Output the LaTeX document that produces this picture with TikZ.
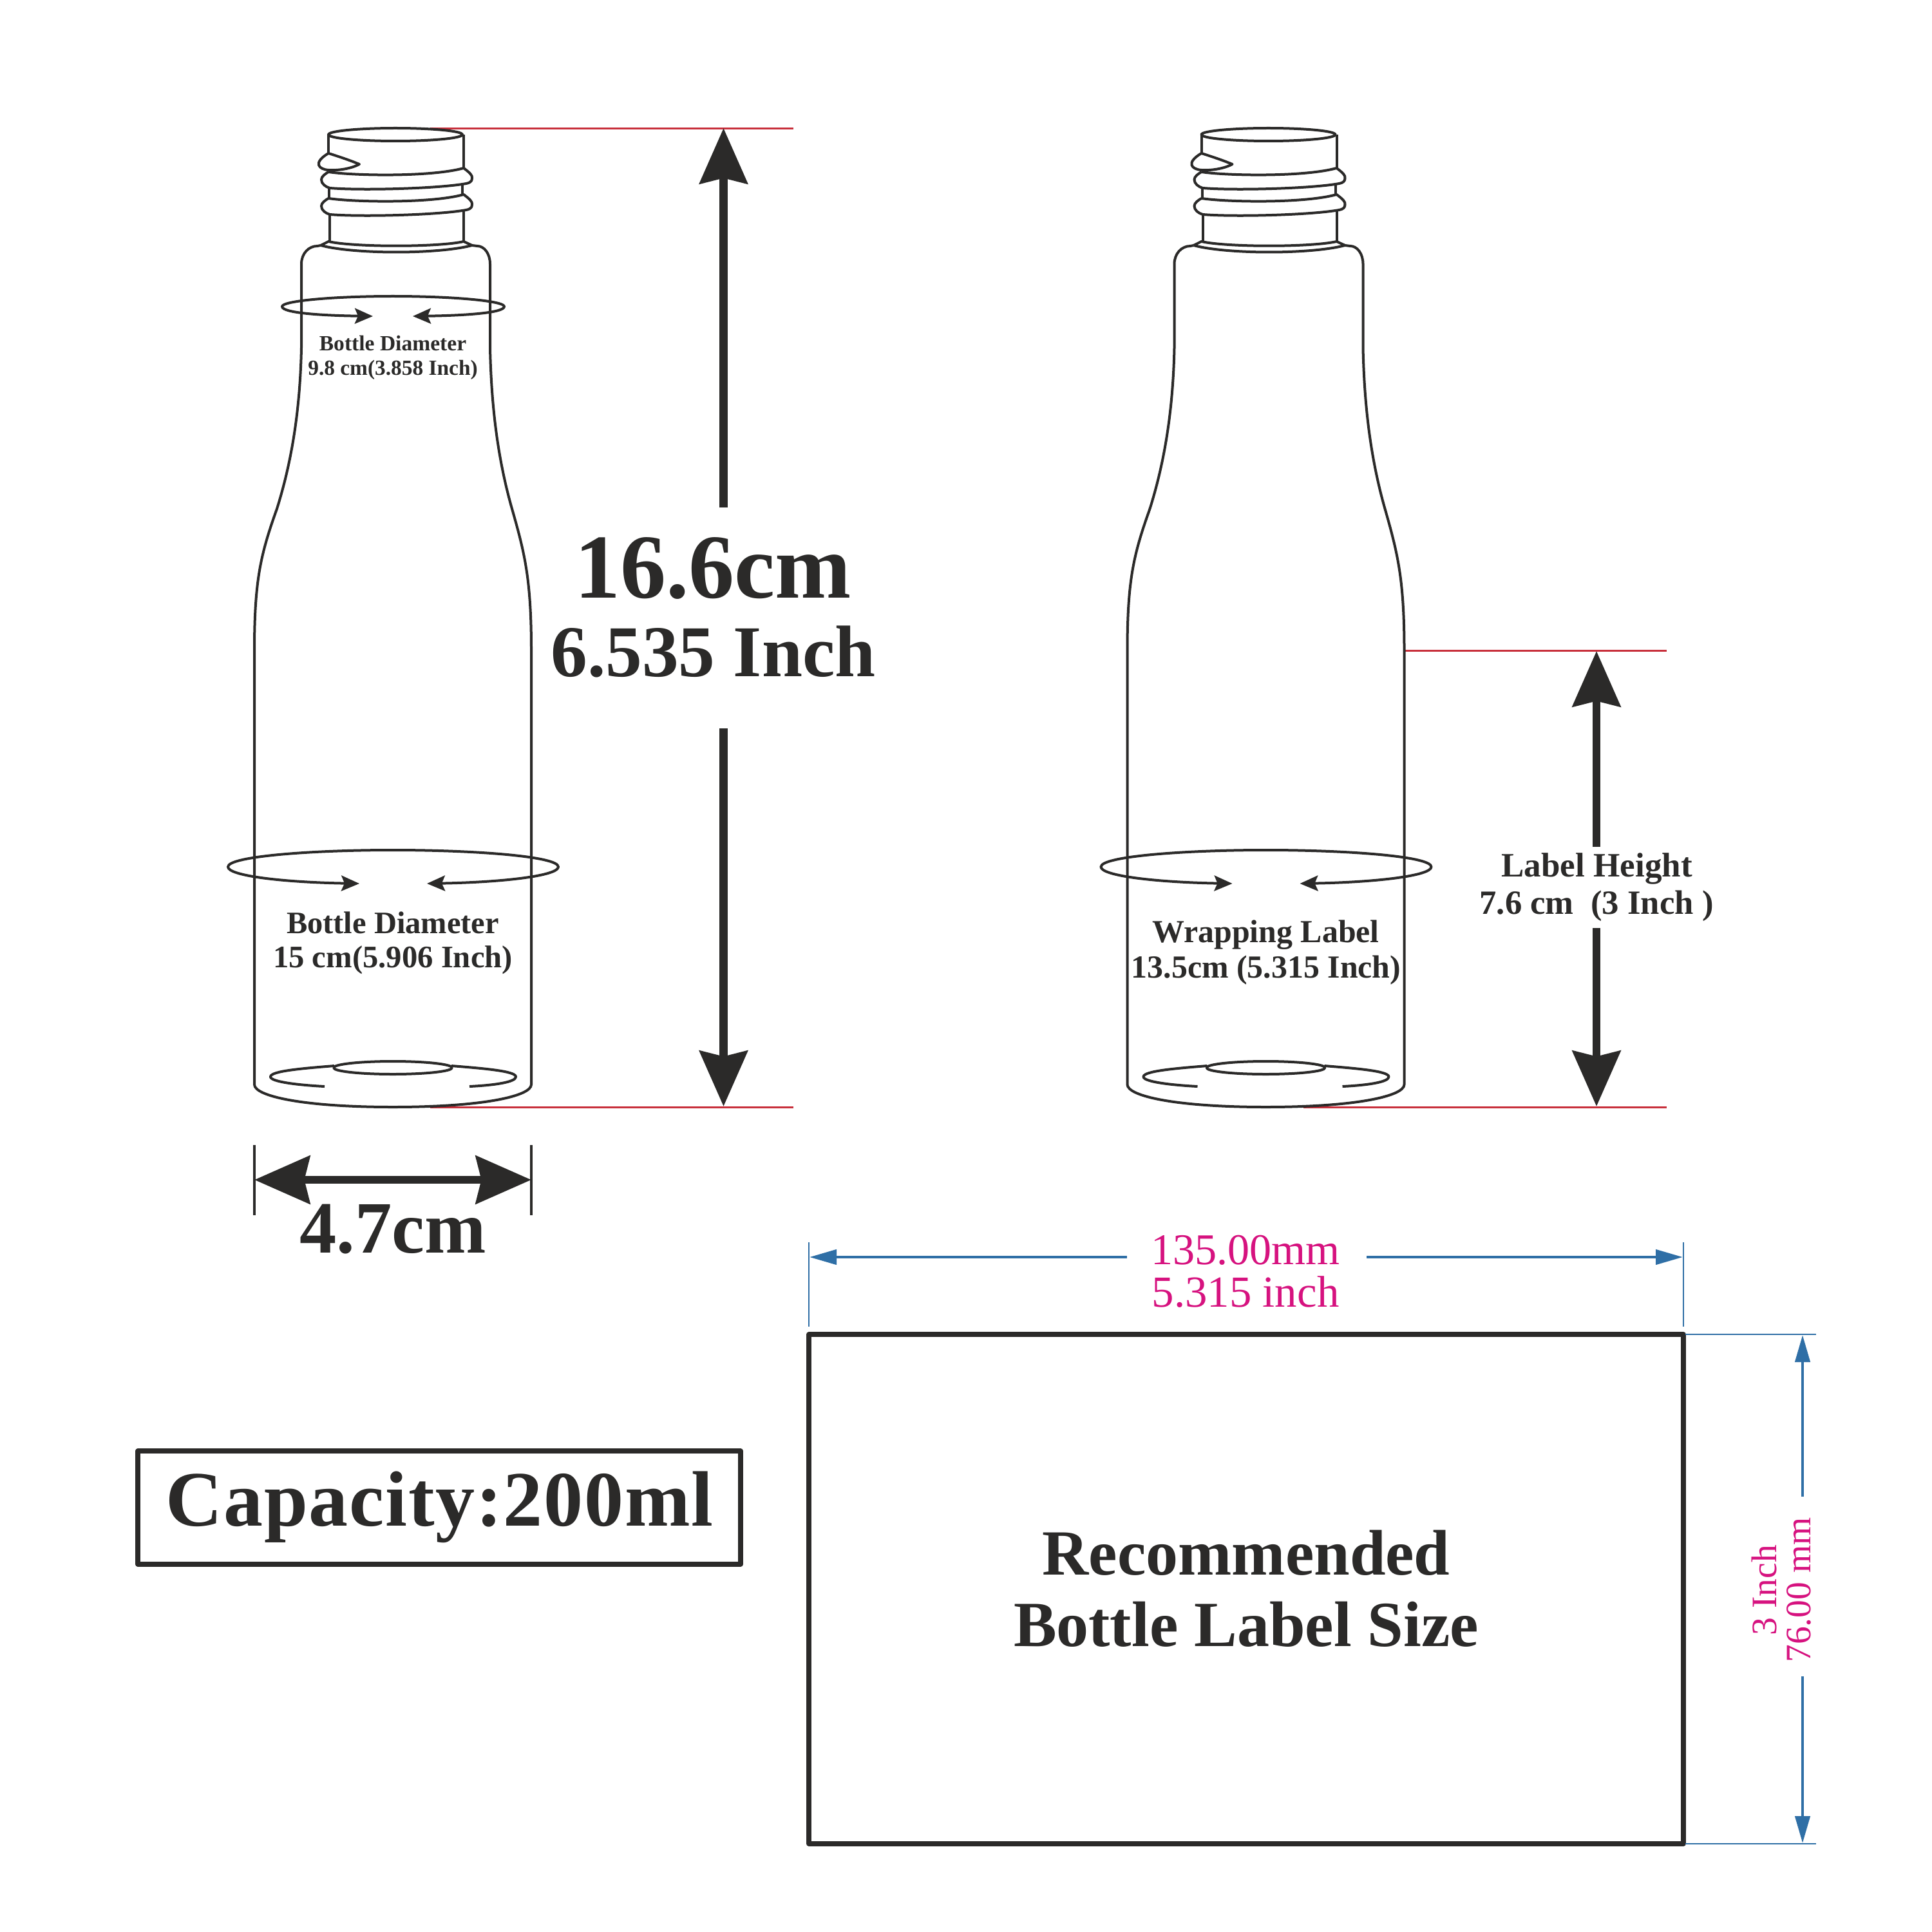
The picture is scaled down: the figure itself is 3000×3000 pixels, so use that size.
\documentclass[tikz,border=0pt]{standalone}
\usepackage{fontspec}
\setmainfont{Liberation Serif}
\usetikzlibrary{arrows.meta}
\definecolor{inkdark}{HTML}{2B2A29}
\definecolor{dimred}{HTML}{C8303C}
\definecolor{dimblue}{HTML}{2F6FA6}
\definecolor{dimpink}{HTML}{D6127F}
\tikzset{
	lbl/.style={anchor=base, inner sep=0pt, text=inkdark, font=\fontsize{#1}{#1}\selectfont\bfseries},
	pinklbl/.style={anchor=base, inner sep=0pt, text=dimpink, font=\fontsize{#1}{#1}\selectfont},
	outline/.style={draw=inkdark, line width=0.4mm},
	redline/.style={draw=dimred, line width=0.3mm},
	ringarrow/.style={outline, {Stealth[length=2.8mm, width=2.4mm, inset=0.5mm]}-{Stealth[length=2.8mm, width=2.4mm, inset=0.5mm]}},
	bigshaft/.style={draw=inkdark, line width=1.26mm},
	bigtip/.style={-{Stealth[length=8.6mm, width=7.4mm, inset=0.85mm]}},
	blueshaft/.style={draw=dimblue, line width=0.45mm, -{Triangle[length=4.2mm, width=2.3mm]}},
	blueline/.style={draw=dimblue, line width=0.2mm},
	framebox/.style={draw=inkdark, line width=0.72mm}
}
\begin{document}
\begin{tikzpicture}[x=0.1mm, y=-0.1mm, line join=round]
	\useasboundingbox (0,0) rectangle (3000,3000);
	% red extension lines
	\coordinate (RA) at (668,199.5);
	\coordinate (RB) at (1232,199.5);
	\coordinate (RC) at (668,1719);
	\coordinate (RD) at (1232,1719);
	\coordinate (RE) at (2181,1010);
	\coordinate (RF) at (2588,1010);
	\coordinate (RG) at (2024,1719);
	\coordinate (RH) at (2588,1719);
	\draw[redline] (RA)--(RB);
	\draw[redline] (RC)--(RD);
	\draw[redline] (RE)--(RF);
	\draw[redline] (RG)--(RH);
	% the two bottles
	\foreach \dx in {0,1355.5} {
		\begin{scope}[shift={(\dx,0)}]
			\draw[outline] (614,209) ellipse (104 and 10);
			\draw[outline] (510,209)--(510,238);
			\draw[outline] (720,209)--(720,262);
			\draw[outline] (510,238) .. controls (532,245) and (546,250) .. (558,255) .. controls (545,262) and (525,265) .. (510,264) .. controls (495,263) and (485,253) .. (510,238);
			\foreach \dy in {0,41} {
				\draw[outline, shift={(0,\dy)}] (510,267) .. controls (550,273) and (670,275) .. (720,261) .. controls (729,268) and (734,272) .. (733,277) .. controls (733,282) and (729,284) .. (724,285) .. controls (680,293) and (560,296) .. (512,292) .. controls (505,290) and (499,285) .. (499,279) .. controls (499,274) and (505,270) .. (510,267);
			}
			\draw[outline] (511,292)--(511,309);
			\draw[outline] (718,286)--(718,303);
			\draw[outline] (512,334)--(512,375);
			\draw[outline] (720,327)--(720,375);
			% collar and shoulder
			\draw[outline] (498,381) -- (510,375) .. controls (550,384) and (680,384) .. (720,375) -- (733,381) .. controls (680,395) and (550,395) .. (498,381);
			\draw[outline] (498,381)--(493,382) .. controls (479,382) and (468,394) .. (468,410) -- (468,540) .. controls (466,640) and (452,720) .. (430,790) .. controls (405,860) and (395,900) .. (395,1010) -- (395,1684) .. controls (395,1702) and (470,1719) .. (610,1719) .. controls (750,1719) and (825,1702) .. (825,1684) -- (825,1010) .. controls (825,900) and (815,860) .. (795,790) .. controls (775,720) and (763,640) .. (761,540) -- (761,410) .. controls (761,394) and (752,382) .. (741,382) -- (733,381);
			% base
			\draw[outline] (610,1658) ellipse (92 and 10);
			\draw[outline] (519,1655) .. controls (470,1659) and (420,1663) .. (420,1672) .. controls (420,1680) and (465,1685) .. (504,1687);
			\draw[outline] (701,1655) .. controls (750,1659) and (801,1663) .. (801,1672) .. controls (801,1680) and (770,1685) .. (729,1687);
			% ring
			\draw[ringarrow] (663,1372) .. controls (780,1370) and (867,1360) .. (867,1346) .. controls (867,1330) and (740,1320) .. (610,1320) .. controls (480,1320) and (354,1330) .. (354,1346) .. controls (354,1360) and (440,1370) .. (558,1372);
		\end{scope}
	}
	\draw[ringarrow] (641,491) .. controls (720,490) and (783,486) .. (783,476) .. controls (783,467) and (700,460) .. (610,460) .. controls (520,460) and (438,467) .. (438,476) .. controls (438,486) and (500,490) .. (579,491);
	% left bottle labels
	\node[lbl=9.55] (topa) at (610,545) {Bottle Diameter};
	\node[lbl=9.5] (topb) at (610,583) {9.8 cm(3.858 Inch)};
	\node[lbl=13.8] (lowa) at (610,1449) {Bottle Diameter};
	\node[lbl=13.85] (lowb) at (610,1502) {15 cm(5.906 Inch)};
	\node[lbl=14.2] (wrapa) at (1965.5,1463) {Wrapping Label};
	\node[lbl=14.2] (wrapb) at (1966,1518) {13.5cm (5.315 Inch)};
	% height of the bottle
	\coordinate (HA) at (1123.5,199);
	\coordinate (HB) at (1123.5,788);
	\coordinate (HC) at (1123.5,1131);
	\coordinate (HD) at (1123.5,1718);
	\draw[bigshaft, bigtip] (HB)--(HA);
	\draw[bigshaft, bigtip] (HC)--(HD);
	\node[lbl=40.4] (hcm) at (1107,928) {16.6cm};
	\node[lbl=32.25] (hinch) at (1107.5,1050) {6.535 Inch};
	% width of the bottle
	\coordinate (WA) at (395,1832);
	\coordinate (WB) at (825,1832);
	\draw[bigshaft, bigtip] (610,1832)--(WA);
	\draw[bigshaft, bigtip] (610,1832)--(WB);
	\foreach \xtick in {395,825} \draw[outline] (\xtick,1778)--(\xtick,1887);
	\node[lbl=32.6] (wcm) at (610,1945) {4.7cm};
	% height of the label
	\coordinate (LA) at (2479,1011);
	\coordinate (LB) at (2479,1315);
	\coordinate (LC) at (2479,1441);
	\coordinate (LD) at (2479,1718);
	\draw[bigshaft, bigtip] (LB)--(LA);
	\draw[bigshaft, bigtip] (LC)--(LD);
	\node[lbl=15.1] (laba) at (2479.5,1361) {Label Height};
	\node[lbl=15] (labb) at (2479,1419) {7.6 cm\ \ (3 Inch )};
	% capacity
	\draw[framebox] (214,2253) rectangle (1150,2429);
	\node[lbl=34.7] (cap) at (682.5,2369) {\addfontfeature{LetterSpace=1.5}Capacity:200ml};
	% recommended label
	\draw[framebox] (1256,2072) rectangle (2614,2863);
	\node[lbl=28.45] (reca) at (1935,2445) {Recommended};
	\node[lbl=28.45] (recb) at (1935,2556) {Bottle Label Size};
	% blue dimensions
	\coordinate (BA) at (1257,1952);
	\coordinate (BB) at (1750,1952);
	\coordinate (BC) at (2122,1952);
	\coordinate (BD) at (2613,1952);
	\draw[blueshaft] (BB)--(BA);
	\draw[blueshaft] (BC)--(BD);
	\foreach \xtick in {1256,2614} \draw[blueline] (\xtick,1929)--(\xtick,2060);
	\node[pinklbl=19.4] (pa) at (1934,1963) {135.00mm};
	\node[pinklbl=19.6] (pb) at (1934,2029) {5.315 inch};
	\coordinate (VA) at (2799,2073);
	\coordinate (VB) at (2799,2324);
	\coordinate (VC) at (2799,2603);
	\coordinate (VD) at (2799,2862);
	\draw[blueshaft] (VB)--(VA);
	\draw[blueshaft] (VC)--(VD);
	\foreach \ytick in {2072,2863} \draw[blueline] (2617,\ytick)--(2820,\ytick);
	\node[pinklbl=15.8, rotate=90] (pc) at (2758,2469) {3 Inch};
	\node[pinklbl=15.8, rotate=90] (pd) at (2811,2469) {76.00 mm};
\end{tikzpicture}
\end{document}
